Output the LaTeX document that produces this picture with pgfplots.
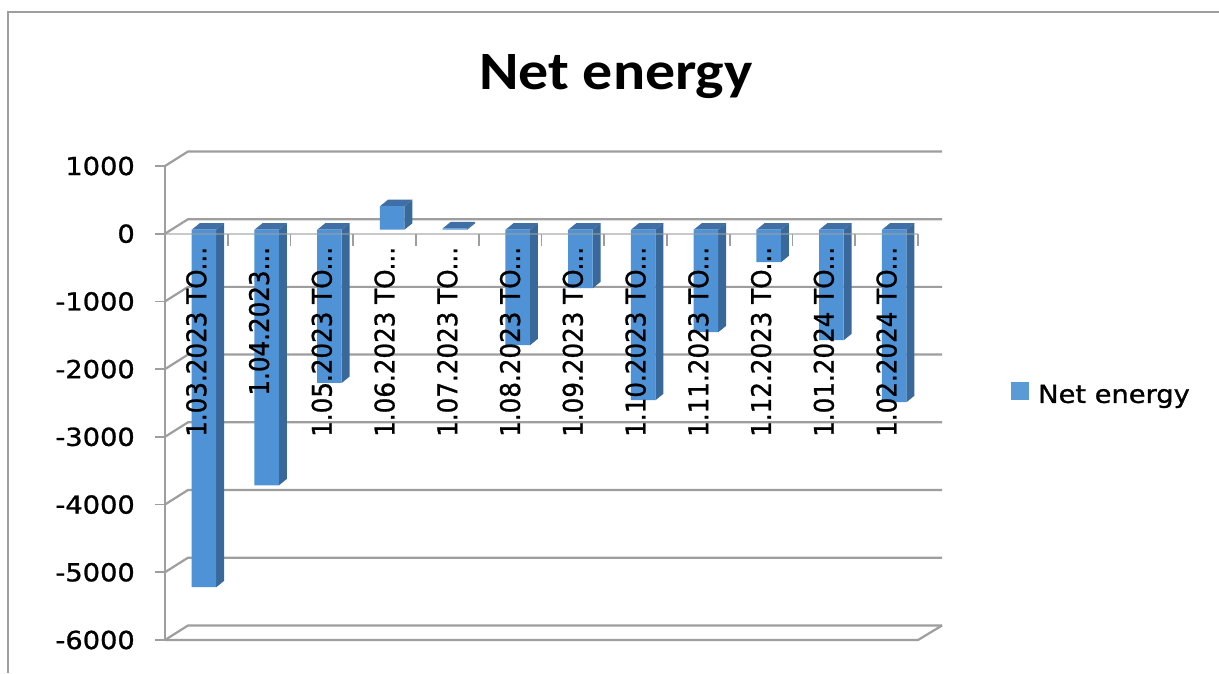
\documentclass[border=0pt]{standalone}
\usepackage{fontspec}
\usepackage{graphicx}
\usepackage{pgfplots}
\usepackage{pgfplotstable}
\pgfplotsset{compat=1.18}
\setmainfont{DejaVu Sans}
\newfontfamily\titlefont{Carlito}
\newfontfamily\tk[FakeBold=1.0]{DejaVu Sans}
\definecolor{gridc}{HTML}{9E9E9E}
\definecolor{frontc}{HTML}{4F93D6}
\definecolor{sidec}{HTML}{39699A}
\definecolor{topc}{HTML}{3F6FA5}
\definecolor{legc}{HTML}{5B9BD5}
\pgfplotstableread{
x y
0 -5280
1 -3775
2 -2263
3 347
4 20
5 -1706
6 -864
7 -2518
8 -1514
9 -480
10 -1632
11 -2547
}\netenergy
\newcommand{\dd}{.{}.{}.}
\newcommand{\yl}[1]{\scalebox{1.1}[1]{#1}}
\newcommand{\xl}[1]{\scalebox{1}[1.1]{#1}}
\newcommand{\wall}[1]{%
  \draw[gridc,line width=2.2pt] (165pt,{673pt-#1pt}) -- (188pt,{673pt-#1pt+14.5pt}) -- (942pt,{673pt-#1pt+14.5pt});}
\begin{document}
\begin{tikzpicture}[x=1pt,y=1pt]
\useasboundingbox (0pt,0pt) rectangle (1219pt,673pt);
\fill[white] (0pt,0pt) rectangle (1219pt,673pt);
\draw[gridc,line width=2.2pt] (8pt,0pt) -- (8pt,661pt) -- (1219pt,661pt);
\wall{166}\wall{233.7}\wall{301.4}\wall{369.1}\wall{436.8}\wall{504.5}\wall{572.2}\wall{640}
\draw[gridc,line width=2.2pt] (165pt,33pt) -- (918pt,33pt) -- (942pt,47.5pt);
\begin{axis}[
  at={(165pt,33pt)},anchor=south west,
  scale only axis,width=753pt,height=474pt,
  xmin=-0.5,xmax=11.5,ymin=-6000,ymax=1000,
  clip=false,axis on top,
  unbounded coords=jump,
  axis x line=middle,axis y line=left,
  hide obscured x ticks=false,
  axis line style={-},
  y axis line style={gridc,line width=2.4pt},
  x axis line style={gridc,line width=2.2pt,opacity=0.55},
  xtick={0,1,2,3,4,5,6,7,8,9,10,11},
  minor xtick={-0.5,0.5,1.5,2.5,3.5,4.5,5.5,6.5,7.5,8.5,9.5,10.5,11.5},
  xticklabels={\xl{1.03.2023 TO\dd},\xl{1.04.2023\dd},\xl{1.05.2023 TO\dd},\xl{1.06.2023 TO\dd},\xl{1.07.2023 TO\dd},\xl{1.08.2023 TO\dd},\xl{1.09.2023 TO\dd},\xl{1.10.2023 TO\dd},\xl{1.11.2023 TO\dd},\xl{1.12.2023 TO\dd},\xl{1.01.2024 TO\dd},\xl{1.02.2024 TO\dd}},
  ytick={-6000,-5000,-4000,-3000,-2000,-1000,0,1000},
  yticklabels={\yl{-6000},\yl{-5000},\yl{-4000},\yl{-3000},\yl{-2000},\yl{-1000},\yl{0},\yl{1000}},
  tick align=outside,
  tickwidth=10pt,subtickwidth=12pt,
  major x tick style={draw=none},
  minor x tick style={gridc,line width=1.8pt},
  major y tick style={gridc,line width=1.8pt},
  xticklabel style={yshift=-3pt,rotate=90,anchor=east,inner sep=0pt,font=\tk\fontsize{24.6}{28}\selectfont},
  yticklabel style={anchor=east,inner sep=0pt,xshift=-20pt,font=\tk\fontsize{24.8}{28}\selectfont},
  title={\titlefont\bfseries\fontsize{54}{60}\selectfont\scalebox{1.11}[1]{Net energy}},
  title style={at={(axis description cs:0.599,1.148)},anchor=base,inner sep=0pt},
  legend style={at={(axis description cs:1.1235,0.519)},anchor=west,draw=none,fill=none,inner sep=0pt,
    font=\tk\fontsize{24.8}{28}\selectfont},
  legend cell align=left,
  legend image code/.code={\fill[legc] (0pt,-9pt) rectangle (18pt,9pt);},
]
% top faces of the bars
\addplot[forget plot,draw=none,fill=topc,xshift=7.6pt,yshift=4pt] table[row sep=\\] {
x y\\
-0.195 0\\ 0.195 0\\ 0.3225 96\\ -0.0675 96\\ nan nan\\
0.805 0\\ 1.195 0\\ 1.3225 96\\ 0.9325 96\\ nan nan\\
1.805 0\\ 2.195 0\\ 2.3225 96\\ 1.9325 96\\ nan nan\\
2.805 347\\ 3.195 347\\ 3.3225 443\\ 2.9325 443\\ nan nan\\
3.805 20\\ 4.195 20\\ 4.3225 116\\ 3.9325 116\\ nan nan\\
4.805 0\\ 5.195 0\\ 5.3225 96\\ 4.9325 96\\ nan nan\\
5.805 0\\ 6.195 0\\ 6.3225 96\\ 5.9325 96\\ nan nan\\
6.805 0\\ 7.195 0\\ 7.3225 96\\ 6.9325 96\\ nan nan\\
7.805 0\\ 8.195 0\\ 8.3225 96\\ 7.9325 96\\ nan nan\\
8.805 0\\ 9.195 0\\ 9.3225 96\\ 8.9325 96\\ nan nan\\
9.805 0\\ 10.195 0\\ 10.3225 96\\ 9.9325 96\\ nan nan\\
10.805 0\\ 11.195 0\\ 11.3225 96\\ 10.9325 96\\
};
% side faces of the bars
\addplot[forget plot,draw=none,fill=sidec,xshift=7.6pt,yshift=4pt] table[row sep=\\] {
x y\\
0.195 0\\ 0.3225 96\\ 0.3225 -5184\\ 0.195 -5280\\ nan nan\\
1.195 0\\ 1.3225 96\\ 1.3225 -3679\\ 1.195 -3775\\ nan nan\\
2.195 0\\ 2.3225 96\\ 2.3225 -2167\\ 2.195 -2263\\ nan nan\\
3.195 0\\ 3.3225 96\\ 3.3225 443\\ 3.195 347\\ nan nan\\
4.195 0\\ 4.3225 96\\ 4.3225 116\\ 4.195 20\\ nan nan\\
5.195 0\\ 5.3225 96\\ 5.3225 -1610\\ 5.195 -1706\\ nan nan\\
6.195 0\\ 6.3225 96\\ 6.3225 -768\\ 6.195 -864\\ nan nan\\
7.195 0\\ 7.3225 96\\ 7.3225 -2422\\ 7.195 -2518\\ nan nan\\
8.195 0\\ 8.3225 96\\ 8.3225 -1418\\ 8.195 -1514\\ nan nan\\
9.195 0\\ 9.3225 96\\ 9.3225 -384\\ 9.195 -480\\ nan nan\\
10.195 0\\ 10.3225 96\\ 10.3225 -1536\\ 10.195 -1632\\ nan nan\\
11.195 0\\ 11.3225 96\\ 11.3225 -2451\\ 11.195 -2547\\
};
% front faces of the bars
\addplot[ybar,bar width=24.5pt,bar shift=0pt,draw=none,fill=frontc,xshift=7.6pt,yshift=4pt] table[x=x,y=y] {\netenergy};
\addlegendentry{\hspace{7pt}\scalebox{1.1}[1]{Net energy}}
\end{axis}
\end{tikzpicture}
\end{document}
